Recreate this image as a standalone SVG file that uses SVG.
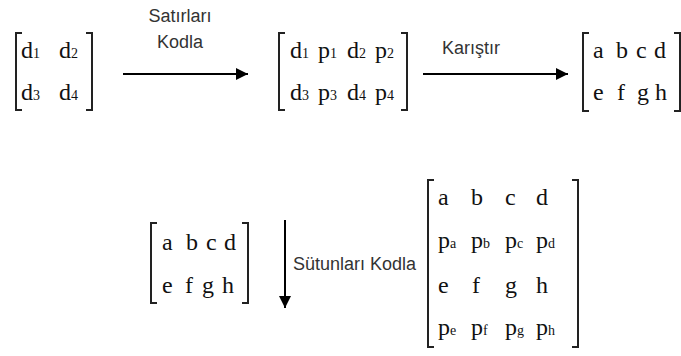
<svg xmlns="http://www.w3.org/2000/svg" width="681" height="356" viewBox="0 0 681 356">
<style>
.m{font-family:"Liberation Serif",serif;font-size:24px;fill:#111}
.s{font-size:14px}
.lb{font-family:"Liberation Sans",Arial,sans-serif;font-size:18px;fill:#333}
.br{fill:none;stroke:#222;stroke-width:2}
.ar{stroke:#000;stroke-width:2;fill:none}
</style>
<defs>
<marker id="ah" viewBox="0 0 10 10" refX="10" refY="5" markerWidth="18" markerHeight="12" markerUnits="userSpaceOnUse" orient="auto"><path d="M0,0 L10,5 L0,10 z" fill="#000"/></marker>
</defs>
<rect width="681" height="356" fill="#fff"/>
<g id="m1">
<path class="br" d="M22,33 H16 V110 H22 M86,33 H92 V110 H86"/>
<text class="m" x="21" y="58">d<tspan class="s">1</tspan></text>
<text class="m" x="59" y="58">d<tspan class="s">2</tspan></text>
<text class="m" x="21" y="100">d<tspan class="s">3</tspan></text>
<text class="m" x="59" y="100">d<tspan class="s">4</tspan></text>
</g>
<g id="m2">
<path class="br" d="M285,33 H279 V110 H285 M401,33 H407 V110 H401"/>
<text class="m" x="290" y="58">d<tspan class="s">1</tspan></text>
<text class="m" x="318" y="58">p<tspan class="s">1</tspan></text>
<text class="m" x="347" y="58">d<tspan class="s">2</tspan></text>
<text class="m" x="375" y="58">p<tspan class="s">2</tspan></text>
<text class="m" x="290" y="100">d<tspan class="s">3</tspan></text>
<text class="m" x="318" y="100">p<tspan class="s">3</tspan></text>
<text class="m" x="347" y="100">d<tspan class="s">4</tspan></text>
<text class="m" x="375" y="100">p<tspan class="s">4</tspan></text>
</g>
<g id="m3">
<path class="br" d="M589,33 H583 V111 H589 M674,33 H680 V111 H674"/>
<text class="m" x="593" y="58">a</text>
<text class="m" x="616" y="58">b</text>
<text class="m" x="636" y="58">c</text>
<text class="m" x="654" y="58">d</text>
<text class="m" x="593" y="100">e</text>
<text class="m" x="617" y="100">f</text>
<text class="m" x="637" y="100">g</text>
<text class="m" x="655" y="100">h</text>
</g>
<g id="m4">
<path class="br" d="M157,223 H151 V303 H157 M242,223 H248 V303 H242"/>
<text class="m" x="162" y="250">a</text>
<text class="m" x="186" y="250">b</text>
<text class="m" x="206" y="250">c</text>
<text class="m" x="224" y="250">d</text>
<text class="m" x="162" y="293">e</text>
<text class="m" x="185" y="293">f</text>
<text class="m" x="202" y="293">g</text>
<text class="m" x="222" y="293">h</text>
</g>
<g id="m5">
<path class="br" d="M434,180 H428 V347 H434 M572,180 H578 V347 H572"/>
<text class="m" x="438" y="205">a</text>
<text class="m" x="471" y="205">b</text>
<text class="m" x="505" y="205">c</text>
<text class="m" x="536" y="205">d</text>
<text class="m" x="438" y="248">p<tspan class="s">a</tspan></text>
<text class="m" x="471" y="248">p<tspan class="s">b</tspan></text>
<text class="m" x="505" y="248">p<tspan class="s">c</tspan></text>
<text class="m" x="536" y="248">p<tspan class="s">d</tspan></text>
<text class="m" x="438" y="293">e</text>
<text class="m" x="472" y="293">f</text>
<text class="m" x="505" y="293">g</text>
<text class="m" x="536" y="293">h</text>
<text class="m" x="438" y="335">p<tspan class="s">e</tspan></text>
<text class="m" x="471" y="335">p<tspan class="s">f</tspan></text>
<text class="m" x="505" y="335">p<tspan class="s">g</tspan></text>
<text class="m" x="536" y="335">p<tspan class="s">h</tspan></text>
</g>
<g id="connectors">
<line class="ar" x1="123" y1="74" x2="248" y2="74" marker-end="url(#ah)"/>
<line class="ar" x1="423" y1="74" x2="568" y2="74" marker-end="url(#ah)"/>
<line class="ar" x1="285" y1="220" x2="285" y2="308" marker-end="url(#ah)"/>
<text class="lb" x="180" y="22" text-anchor="middle">Satırları</text>
<text class="lb" x="180" y="48" text-anchor="middle">Kodla</text>
<text class="lb" x="442" y="54">Karıştır</text>
<text class="lb" x="293" y="270">Sütunları Kodla</text>
</g>
</svg>
